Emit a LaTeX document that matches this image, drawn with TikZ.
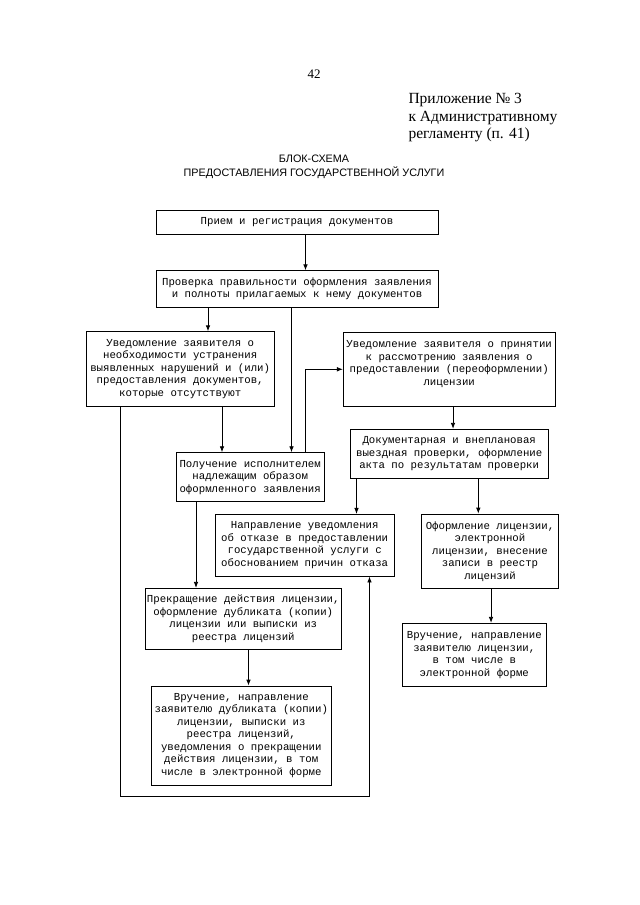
\documentclass[tikz,border=0pt]{standalone}
\usepackage{fontspec}
\setmainfont{Liberation Serif}
\setsansfont{Liberation Sans}
\newfontfamily\monofnt{Liberation Mono}
\usetikzlibrary{arrows.meta}

\begin{document}
\begin{tikzpicture}[x=1bp,y=-1bp,
  blok/.style={draw=black, line width=0.85bp, inner xsep=1bp, inner ysep=2bp, align=center,
    font=\monofnt\fontsize{10.7bp}{12.5bp}\selectfont},
  strelka/.style={draw=black, line width=0.85bp, -{Latex[length=6bp,width=4.6bp]}}]
  \path[use as bounding box, fill=white] (0,0) rectangle (640,905);
  \node (nomer) at (314,74) {\fontsize{13bp}{15bp}\selectfont 42};
  \node[anchor=west, align=left, font=\fontsize{15.5bp}{17.5bp}\selectfont] (prilozh) at (405,118)
    {Приложение № 3\\к Административному\\регламенту (п. 41)};
  \node[align=center, font=\sffamily\fontsize{10.8bp}{14bp}\selectfont] (zagol) at (314,167)
    {БЛОК-СХЕМА\\ПРЕДОСТАВЛЕНИЯ ГОСУДАРСТВЕННОЙ УСЛУГИ};
  \node[blok, minimum width=282bp, minimum height=24.3bp] (priem) at (297,222.2)
    {Прием и регистрация документов};
  \node[blok, minimum width=282bp, minimum height=36.3bp] (proverka) at (297,288.9)
    {Проверка правильности оформления заявления\\и полноты прилагаемых к нему документов};
  \node[blok, minimum width=188.3bp, minimum height=74.3bp] (uvedNeobh) at (180.2,368.9)
    {Уведомление заявителя о\\необходимости устранения\\выявленных нарушений и (или)\\предоставления документов,\\которые отсутствуют};
  \node[blok, minimum width=211.7bp, minimum height=73.3bp] (uvedPrin) at (449.2,369.4)
    {Уведомление заявителя о принятии\\к рассмотрению заявления о\\предоставлении (переоформлении)\\лицензии\\\mbox{}};
  \node[blok, minimum width=148.3bp, minimum height=49bp] (poluchenie) at (250.2,477.2)
    {Получение исполнителем\\надлежащим образом\\оформленного заявления};
  \node[blok, minimum width=198.3bp, minimum height=49bp] (proverkaAkt) at (449.2,453.8)
    {Документарная и внеплановая\\выездная проверки, оформление\\акта по результатам проверки};
  \node[blok, minimum width=179.3bp, minimum height=61.7bp] (otkaz) at (304.7,545.2)
    {Направление уведомления\\об отказе в предоставлении\\государственной услуги с\\обоснованием причин отказа};
  \node[blok, minimum width=136.6bp, minimum height=74.3bp] (oformlenie) at (490,551.2)
    {Оформление лицензии,\\электронной\\лицензии, внесение\\записи в реестр\\лицензий};
  \node[blok, minimum width=196.7bp, minimum height=61bp] (prekrashenie) at (243.3,618.8)
    {Прекращение действия лицензии,\\оформление дубликата (копии)\\лицензии или выписки из\\реестра лицензий};
  \node[blok, minimum width=143.3bp, minimum height=63.4bp] (vruchenie) at (474.3,655)
    {Вручение, направление\\заявителю лицензии,\\в том числе в\\электронной форме};
  \node[blok, minimum width=179.3bp, minimum height=99bp] (vruchDubl) at (241.3,735.5)
    {Вручение, направление\\заявителю дубликата (копии)\\лицензии, выписки из\\реестра лицензий,\\уведомления о прекращении\\действия лицензии, в том\\числе в электронной форме};
  \draw[strelka] (305.5,0 |- priem.south) -- (305.5,0 |- proverka.north);
  \draw[strelka] (208,0 |- proverka.south) -- (208,0 |- uvedNeobh.north);
  \draw[strelka] (291.5,0 |- proverka.south) -- (291.5,0 |- poluchenie.north);
  \draw[strelka] (222,0 |- uvedNeobh.south) -- (222,0 |- poluchenie.north);
  \draw[strelka] (305,0 |- poluchenie.north) -- (305,369.3) -- (uvedPrin.west |- 0,369.3);
  \draw[strelka] (120,0 |- uvedNeobh.south) -- (120,796) -- (369.5,796) -- (369.5,0 |- otkaz.south);
  \draw[strelka] (453,0 |- uvedPrin.south) -- (453,0 |- proverkaAkt.north);
  \draw[strelka] (356.5,0 |- proverkaAkt.south) -- (356.5,0 |- otkaz.north);
  \draw[strelka] (478.3,0 |- proverkaAkt.south) -- (478.3,0 |- oformlenie.north);
  \draw[strelka] (491,0 |- oformlenie.south) -- (491,0 |- vruchenie.north);
  \draw[strelka] (196,0 |- poluchenie.south) -- (196,0 |- prekrashenie.north);
  \draw[strelka] (248.5,0 |- prekrashenie.south) -- (248.5,0 |- vruchDubl.north);
\end{tikzpicture}
\end{document}
